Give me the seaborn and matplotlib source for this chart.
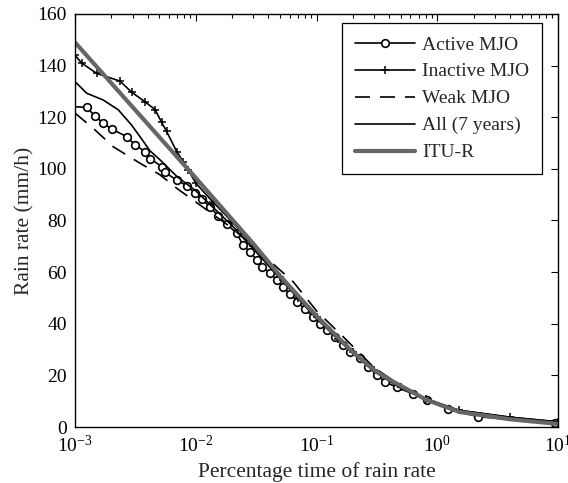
import numpy as np
import pandas as pd
import matplotlib
matplotlib.use("Agg")
import matplotlib.pyplot as plt
import seaborn as sns

# ---------------- data (percentage time, rain rate mm/h) ----------------
active_pct = [0.0009, 0.00125, 0.001465, 0.001715, 0.002013, 0.00268, 0.00314, 0.0038, 0.00418,
              0.00522, 0.00556, 0.00695, 0.00841, 0.00985, 0.0112, 0.0131, 0.01536, 0.01803,
              0.02181, 0.0247, 0.0281, 0.0319, 0.0351, 0.0411, 0.0468, 0.0530, 0.0602, 0.0692,
              0.0802, 0.0939, 0.1067, 0.1212, 0.142, 0.1663, 0.189, 0.2287, 0.268, 0.3145,
              0.368, 0.46, 0.632, 0.815, 1.231, 2.18, 9.41]
active_rate = [124.2, 123.8, 120.5, 117.7, 115.4, 112.5, 109.3, 106.7, 104.0,
               100.9, 98.6, 95.7, 93.5, 90.6, 88.3, 85.3, 81.8, 78.7,
               75.0, 70.5, 67.9, 64.7, 62.1, 59.8, 57.0, 54.1, 51.6, 48.6,
               45.6, 42.7, 39.9, 37.6, 35.0, 31.8, 29.2, 26.6, 23.4, 20.2,
               17.6, 15.4, 12.8, 10.5, 6.9, 4.0, 1.4]

inactive_pct = [0.001, 0.001136, 0.001512, 0.002358, 0.002947, 0.0038, 0.0046, 0.00522, 0.00574,
                0.00695, 0.00788, 0.00867, 0.0100, 0.0140, 0.0200, 0.0300, 0.0500, 0.0700,
                0.100, 0.150, 0.200, 0.300, 0.500, 0.800, 1.50, 4.00, 10.0]
inactive_rate = [144.0, 141.0, 137.0, 134.0, 129.7, 126.0, 123.0, 118.0, 114.5,
                 106.7, 102.8, 99.6, 94.5, 87.0, 79.5, 70.0, 58.0, 50.0,
                 42.5, 34.0, 29.0, 22.0, 15.5, 11.0, 6.5, 3.8, 2.0]

weak_pct = [0.001, 0.00141, 0.00207, 0.00345, 0.00506, 0.00695, 0.01084, 0.02, 0.03,
            0.064, 0.10, 0.166, 0.30, 0.50, 0.80, 1.50, 4.00, 10.0]
weak_rate = [121.6, 115.8, 108.6, 102.2, 97.7, 92.5, 86.0, 77.0, 70.0,
             56.3, 45.0, 35.0, 23.0, 16.0, 11.0, 6.5, 3.5, 1.8]

all_pct = [0.001, 0.00125, 0.00171, 0.00228, 0.00294, 0.00345, 0.00418, 0.00506, 0.007,
           0.01, 0.02, 0.03, 0.05, 0.10, 0.20, 0.30, 0.50, 0.80, 1.50, 4.00, 10.0]
all_rate = [133.8, 129.3, 126.7, 122.9, 117.0, 112.5, 107.0, 103.5, 97.0,
            91.5, 78.0, 69.0, 57.5, 42.0, 28.5, 21.5, 15.0, 11.0, 6.5, 3.8, 2.0]

itu_pct = [0.001, 0.01, 0.03, 0.05, 0.10, 0.20, 0.30, 0.431, 0.815, 1.54, 3.99, 8.55, 10.0]
itu_rate = [149.0, 96.5, 71.0, 58.5, 43.0, 29.0, 22.0, 17.6, 10.5, 5.8, 3.0, 1.5, 1.2]

x_ticks = [1e-3, 1e-2, 1e-1, 1e0, 1e1]
x_ticklabels = [r"$10^{-3}$", r"$10^{-2}$", r"$10^{-1}$", r"$10^{0}$", r"$10^{1}$"]
y_ticks = [0, 20, 40, 60, 80, 100, 120, 140, 160]

# ---------------- style ----------------
sns.set_theme(style="white")
plt.rcParams["font.family"] = ["Liberation Serif", "DejaVu Serif"]
plt.rcParams["mathtext.fontset"] = "custom"
plt.rcParams["mathtext.rm"] = "Liberation Serif"
plt.rcParams["mathtext.it"] = "Liberation Serif:italic"
plt.rcParams["mathtext.bf"] = "Liberation Serif:bold"
plt.rcParams["axes.unicode_minus"] = False

fig = plt.figure(figsize=(5.68, 4.83), dpi=100)
ax = fig.add_axes([75 / 568, 1 - 427 / 483, 483 / 568, 413 / 483])

def frame(p, r):
    return pd.DataFrame({"pct": p, "rate": r})

LW = 1.2
sns.lineplot(data=frame(active_pct, active_rate), x="pct", y="rate", ax=ax, color="black",
             lw=LW, linestyle="-", marker="o", markersize=5.5, markerfacecolor="white",
             markeredgecolor="black", markeredgewidth=1.2, label="Active MJO", sort=False)
sns.lineplot(data=frame(inactive_pct, inactive_rate), x="pct", y="rate", ax=ax, color="black",
             lw=LW, linestyle="-", marker="+", markersize=5.5, markeredgewidth=1.1,
             markeredgecolor="black", label="Inactive MJO", sort=False)
sns.lineplot(data=frame(weak_pct, weak_rate), x="pct", y="rate", ax=ax, color="black",
             lw=LW, linestyle=(0, (9, 6)), label="Weak MJO", sort=False)
sns.lineplot(data=frame(all_pct, all_rate), x="pct", y="rate", ax=ax, color="black",
             lw=LW, linestyle="-", label="All (7 years)", sort=False)
sns.lineplot(data=frame(itu_pct, itu_rate), x="pct", y="rate", ax=ax, color="#666666",
             lw=3.0, linestyle="-", label="ITU-R", sort=False)

ax.set_xscale("log")
ax.set_xlim(1e-3, 1e1)
ax.set_ylim(0, 160)
ax.set_xticks(x_ticks)
ax.set_xticklabels(x_ticklabels)
ax.set_yticks(y_ticks)
ax.tick_params(axis="both", which="both", direction="in", top=True, right=True,
               labelsize=14, colors="black")
ax.tick_params(axis="x", which="major", pad=6)
ax.tick_params(axis="y", which="major", pad=6)
ax.tick_params(axis="both", which="major", length=5, width=0.8)
ax.tick_params(axis="x", which="minor", length=3, width=0.8)
ax.xaxis.set_minor_locator(matplotlib.ticker.LogLocator(base=10, subs=np.arange(2, 10)))
ax.xaxis.set_minor_formatter(matplotlib.ticker.NullFormatter())
for s in ax.spines.values():
    s.set_visible(True)
    s.set_color("black")
    s.set_linewidth(1.0)

ax.set_xlabel("Percentage time of rain rate", fontsize=15.5, labelpad=4)
ax.set_ylabel("Rain rate (mm/h)", fontsize=15.5, labelpad=2)

leg = ax.legend(loc="upper right", bbox_to_anchor=(0.967, 0.978), fontsize=14,
                frameon=True, fancybox=False, edgecolor="black", framealpha=1,
                handlelength=3.1, numpoints=1, labelspacing=0.48, borderpad=0.66,
                handletextpad=0.35, borderaxespad=0)
leg.get_frame().set_linewidth(0.9)

fig.savefig("out.png", dpi=100)
